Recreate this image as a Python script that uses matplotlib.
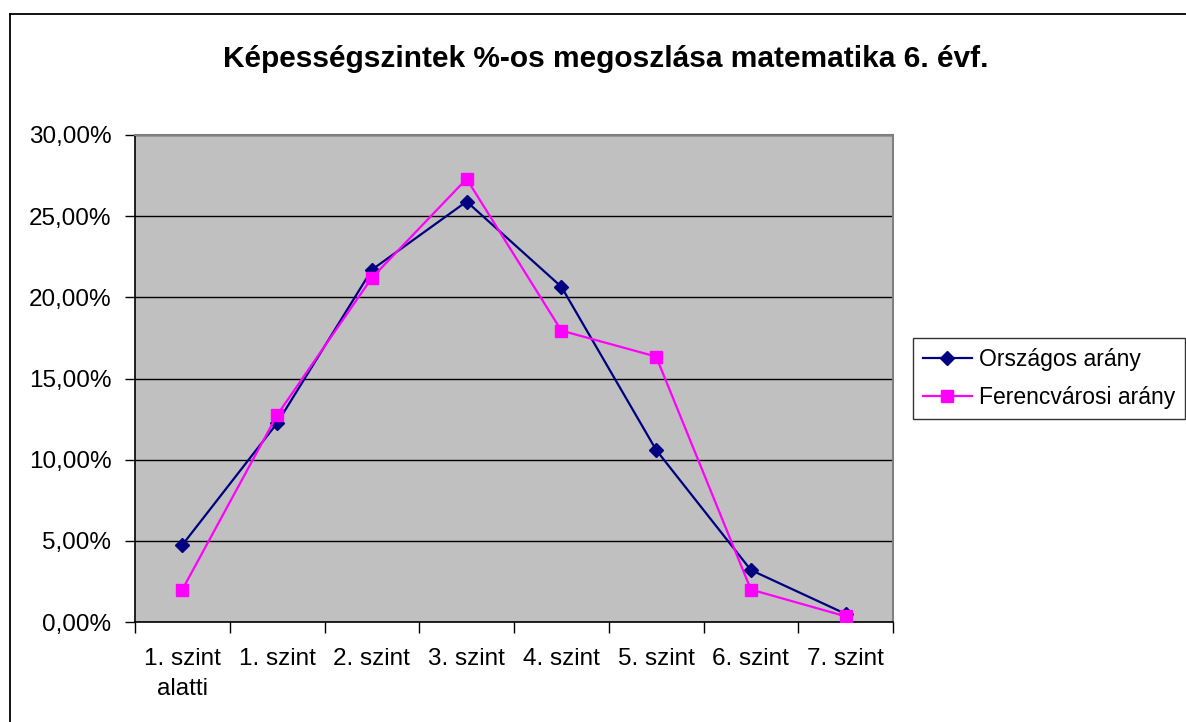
import matplotlib
matplotlib.use("Agg")
import matplotlib.pyplot as plt
from matplotlib.lines import Line2D
from matplotlib.ticker import FixedLocator, FuncFormatter

plt.rcParams["font.family"] = ["Liberation Sans", "DejaVu Sans"]

categories = ["1. szint\nalatti", "1. szint", "2. szint", "3. szint",
              "4. szint", "5. szint", "6. szint", "7. szint"]
orszagos = [4.75, 12.25, 21.7, 25.9, 20.65, 10.6, 3.2, 0.5]
ferencvarosi = [2.0, 12.75, 21.2, 27.3, 17.95, 16.35, 2.0, 0.35]
title = "Képességszintek %-os megoszlása matematika 6. évf."

W, H = 1186, 722
fig = plt.figure(figsize=(W / 100, H / 100), dpi=100)
ax = fig.add_axes([135 / W, 1 - 622 / H, (893 - 135) / W, (622 - 135) / H])
ax.set_facecolor("#c0c0c0")

x = list(range(len(categories)))
ax.plot(x, orszagos, color="#000080", lw=1.6, marker="D", ms=7.5,
        label="Országos arány", zorder=3)
ax.plot(x, ferencvarosi, color="#ff00ff", lw=1.6, marker="s", ms=8,
        label="Ferencvárosi arány", zorder=3)

ax.set_xlim(-0.5, len(categories) - 0.5)
ax.set_ylim(0, 30)
ax.set_yticks([0, 5, 10, 15, 20, 25, 30])
ax.yaxis.set_major_formatter(FuncFormatter(lambda v, p: f"{v:.2f}%".replace(".", ",")))
ax.yaxis.grid(True, color="black", lw=1.0)
ax.set_axisbelow(True)

ax.xaxis.set_major_locator(FixedLocator([i - 0.5 for i in range(len(categories) + 1)]))
ax.xaxis.set_major_formatter(FuncFormatter(lambda v, p: ""))
ax.xaxis.set_minor_locator(FixedLocator(x))
ax.set_xticklabels(categories, minor=True, fontsize=17.5, multialignment="center",
                   va="top", linespacing=1.45)
ax.tick_params(axis="x", which="minor", length=0, pad=19)
ax.tick_params(axis="x", which="major", length=8, width=1, direction="out")
ax.tick_params(axis="y", length=7, width=1, direction="out", labelsize=17.5, pad=10)

for s in ["top", "right"]:
    ax.spines[s].set_color("#808080")
    ax.spines[s].set_linewidth(1.5)
for s in ["left", "bottom"]:
    ax.spines[s].set_color("black")
    ax.spines[s].set_linewidth(1.2)

fig.text(606 / W, 1 - 59 / H, title, ha="center", va="center",
         fontsize=21.5, fontweight="bold")

leg = fig.legend(loc="upper left", bbox_to_anchor=(913 / W, 1 - 338 / H),
                 fontsize=16.5, frameon=True, fancybox=False, edgecolor="black",
                 borderpad=0.42, handlelength=2.15, handletextpad=0.3,
                 labelspacing=0.68, borderaxespad=0)
leg.get_frame().set_linewidth(1.0)

# outer chart border
fig.add_artist(Line2D([10 / W, 10 / W], [0, 1 - 14 / H], color="black", lw=1.3,
                      transform=fig.transFigure))
fig.add_artist(Line2D([10 / W, 1], [1 - 14 / H, 1 - 14 / H], color="black", lw=1.3,
                      transform=fig.transFigure))

fig.savefig("out.png", dpi=100)
